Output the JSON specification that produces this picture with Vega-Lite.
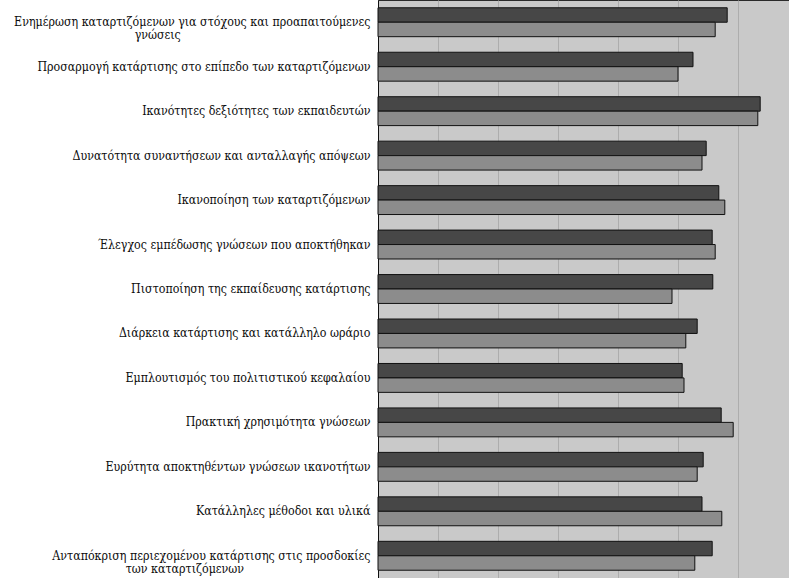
{
  "$schema": "https://vega.github.io/schema/vega-lite/v6.json",
  "width": 411,
  "height": 578,
  "autosize": {"type": "none"},
  "padding": {"left": 378, "top": 0, "right": 0, "bottom": 0},
  "background": "#ffffff",
  "config": {
    "view": {"fill": "#c9c9c9", "stroke": "#2a2a2a", "strokeWidth": 1}
  },
  "data": {
    "values": [
      {"category": "Ενημέρωση καταρτιζόμενων για στόχους και προαπαιτούμενες|γνώσεις", "series": "A", "value": 5.82},
      {"category": "Ενημέρωση καταρτιζόμενων για στόχους και προαπαιτούμενες|γνώσεις", "series": "B", "value": 5.62},
      {"category": "Προσαρμογή κατάρτισης στο επίπεδο των καταρτιζόμενων", "series": "A", "value": 5.25},
      {"category": "Προσαρμογή κατάρτισης στο επίπεδο των καταρτιζόμενων", "series": "B", "value": 5.0},
      {"category": "Ικανότητες δεξιότητες των εκπαιδευτών", "series": "A", "value": 6.37},
      {"category": "Ικανότητες δεξιότητες των εκπαιδευτών", "series": "B", "value": 6.33},
      {"category": "Δυνατότητα συναντήσεων και ανταλλαγής απόψεων", "series": "A", "value": 5.47},
      {"category": "Δυνατότητα συναντήσεων και ανταλλαγής απόψεων", "series": "B", "value": 5.4},
      {"category": "Ικανοποίηση των καταρτιζόμενων", "series": "A", "value": 5.68},
      {"category": "Ικανοποίηση των καταρτιζόμενων", "series": "B", "value": 5.78},
      {"category": "Έλεγχος εμπέδωσης γνώσεων που αποκτήθηκαν", "series": "A", "value": 5.57},
      {"category": "Έλεγχος εμπέδωσης γνώσεων που αποκτήθηκαν", "series": "B", "value": 5.62},
      {"category": "Πιστοποίηση της εκπαίδευσης κατάρτισης", "series": "A", "value": 5.58},
      {"category": "Πιστοποίηση της εκπαίδευσης κατάρτισης", "series": "B", "value": 4.9},
      {"category": "Διάρκεια κατάρτισης και κατάλληλο ωράριο", "series": "A", "value": 5.32},
      {"category": "Διάρκεια κατάρτισης και κατάλληλο ωράριο", "series": "B", "value": 5.13},
      {"category": "Εμπλουτισμός του πολιτιστικού κεφαλαίου", "series": "A", "value": 5.07},
      {"category": "Εμπλουτισμός του πολιτιστικού κεφαλαίου", "series": "B", "value": 5.1},
      {"category": "Πρακτική χρησιμότητα γνώσεων", "series": "A", "value": 5.72},
      {"category": "Πρακτική χρησιμότητα γνώσεων", "series": "B", "value": 5.92},
      {"category": "Ευρύτητα αποκτηθέντων γνώσεων ικανοτήτων", "series": "A", "value": 5.42},
      {"category": "Ευρύτητα αποκτηθέντων γνώσεων ικανοτήτων", "series": "B", "value": 5.32},
      {"category": "Κατάλληλες μέθοδοι και υλικά", "series": "A", "value": 5.4},
      {"category": "Κατάλληλες μέθοδοι και υλικά", "series": "B", "value": 5.73},
      {"category": "Ανταπόκριση περιεχομένου κατάρτισης στις προσδοκίες|των καταρτιζόμενων", "series": "A", "value": 5.57},
      {"category": "Ανταπόκριση περιεχομένου κατάρτισης στις προσδοκίες|των καταρτιζόμενων", "series": "B", "value": 5.28}
    ]
  },
  "mark": {"type": "bar", "stroke": "#111111", "strokeWidth": 1},
  "encoding": {
    "y": {
      "field": "category",
      "type": "nominal",
      "sort": null,
      "scale": {"paddingInner": 0.35, "paddingOuter": 0.175},
      "axis": {
        "title": null,
        "ticks": false,
        "domain": true,
        "domainColor": "#111111",
        "labelFont": "'DejaVu Serif Condensed', 'DejaVu Serif'",
        "labelFontSize": 12.3,
        "labelColor": "#0d0d0d",
        "labelPadding": 8,
        "labelLimit": 400,
        "labelLineHeight": 13,
        "labelExpr": "indexof(datum.label, '|') < 0 ? datum.label : [split(datum.label, '|')[0], pad(split(datum.label, '|')[1], round(1.1 * length(split(datum.label, '|')[0]) - 0.1 * length(split(datum.label, '|')[1])), '\u00a0', 'right') + '\u200b']"
      }
    },
    "yOffset": {"field": "series", "type": "nominal"},
    "x": {
      "field": "value",
      "type": "quantitative",
      "scale": {"domain": [0, 6.85], "nice": false, "zero": true},
      "axis": {
        "title": null,
        "labels": false,
        "ticks": false,
        "domain": false,
        "grid": true,
        "gridColor": "#adadad",
        "gridWidth": 1,
        "values": [1, 2, 3, 4, 5, 6]
      }
    },
    "color": {
      "field": "series",
      "type": "nominal",
      "scale": {"domain": ["A", "B"], "range": ["#474747", "#8c8c8c"]},
      "legend": null
    }
  }
}
